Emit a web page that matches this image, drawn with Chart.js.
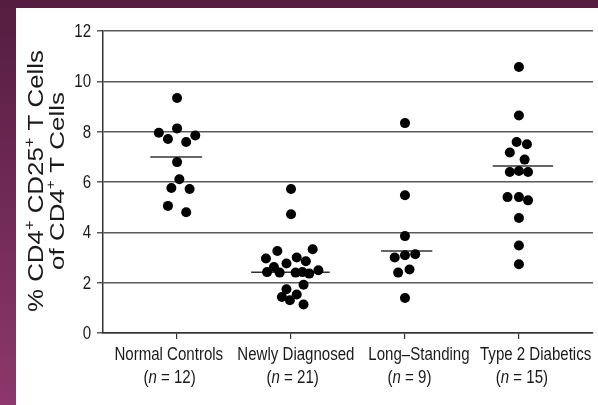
<!DOCTYPE html>
<html>
<head>
<meta charset="utf-8">
<script src="https://cdn.jsdelivr.net/npm/chart.js@4.4.0/dist/chart.umd.min.js"></script>
<style>
  html, body { margin: 0; padding: 0; }
  body { width: 598px; height: 405px; overflow: hidden; position: relative;
         background: linear-gradient(to bottom, #551d40 0%, #8d376c 100%); }
  #frame { position: absolute; left: 16px; top: 8px; width: 582px; height: 397px; background: #fff; }
</style>
</head>
<body>
<div id="frame"><canvas id="myChart" width="582" height="397"></canvas></div>
<script>
const categories = ['Normal Controls', 'Newly Diagnosed', 'Long\u2013Standing', 'Type 2 Diabetics'];
const groupSizes = [12, 21, 9, 15];
const yTicks = [0, 2, 4, 6, 8, 10, 12];

// values, jitter is the sideways offset from the category (in category units)
const normalValues = [9.34, 7.96, 8.13, 7.85, 7.71, 7.59, 6.79, 6.11, 5.76, 5.72, 5.05, 4.80];
const normalJitter = [0.00, -0.16, 0.00, 0.16, -0.08, 0.08, 0.00, 0.02, -0.05, 0.11, -0.08, 0.08];

const newlyValues = [5.72, 4.72, 3.26, 3.33, 2.96, 3.00, 2.76, 2.85, 2.62, 2.42, 2.40, 2.40, 2.42, 2.36, 2.49, 1.92, 1.74, 1.53, 1.43, 1.30, 1.13];
const newlyJitter = [0.00, 0.00, -0.12, 0.19, -0.22, 0.05, -0.04, 0.13, -0.15, -0.21, -0.10, 0.04, 0.10, 0.16, 0.24, 0.11, -0.04, 0.05, -0.08, -0.01, 0.11];

const longValues = [8.34, 5.47, 3.85, 3.00, 3.09, 3.13, 2.40, 2.52, 1.39];
const longJitter = [0.00, 0.00, 0.00, -0.09, 0.00, 0.09, -0.06, 0.04, 0.00];

const type2Values = [10.57, 8.64, 7.59, 7.50, 7.17, 6.89, 6.40, 6.44, 6.40, 5.40, 5.40, 5.27, 4.57, 3.48, 2.73];
const type2Jitter = [0.00, 0.00, -0.02, 0.07, -0.08, 0.05, -0.08, 0.00, 0.08, -0.10, 0.00, 0.08, 0.00, 0.00, 0.00];

const meanValues = [6.99, 2.41, 3.26, 6.64];
const meanLeft = [-0.235, -0.35, -0.21, -0.23];
const meanRight = [0.22, 0.34, 0.24, 0.30];

const groups = [
    [normalValues, normalJitter],
    [newlyValues, newlyJitter],
    [longValues, longJitter],
    [type2Values, type2Jitter]
];

const fam = "'Liberation Sans', Arial, sans-serif";
const narrow = 0.86; // the original labels use a condensed face
// the printed labels are not exactly centred under their ticks (px nudges)
const nameNudge = [-8.3, 4.9, 14, 16.7];
const countNudge = [-7.5, 1.6, 4.5, 3];

const datasets = [];
groups.forEach(([values, jitter], i) => {
    datasets.push({
        label: categories[i],
        data: values.map((v, k) => ({ x: i + 1 + jitter[k], y: v })),
        backgroundColor: '#000',
        borderColor: '#000',
        pointRadius: 5,
        pointBorderWidth: 0,
        order: 1
    });
});
meanValues.forEach((m, i) => {
    datasets.push({
        label: 'mean ' + categories[i],
        data: [{ x: i + 1 + meanLeft[i], y: m }, { x: i + 1 + meanRight[i], y: m }],
        showLine: true,
        borderColor: '#333',
        borderWidth: 1.5,
        pointRadius: 0,
        order: 2
    });
});

// x labels (condensed, italic n) and the y title with superscripts
const extraText = {
    id: 'extraText',
    afterDraw(chart) {
        const ctx = chart.ctx;
        const xs = chart.scales.x;
        const ys = chart.scales.y;
        ctx.save();
        ctx.fillStyle = '#1a1a1a';
        ctx.textBaseline = 'alphabetic';

        const drawPieces = (pieces, cx, y) => {
            let total = 0;
            pieces.forEach(p => { ctx.font = p.font; total += ctx.measureText(p.text).width; });
            let x = cx - total / 2;
            pieces.forEach(p => {
                ctx.font = p.font;
                ctx.fillText(p.text, x, y + (p.dy || 0));
                x += ctx.measureText(p.text).width;
            });
            return total;
        };

        const condensed = (pieces, cx, y) => {
            ctx.save();
            ctx.translate(cx, y);
            ctx.scale(narrow, 1);
            drawPieces(pieces, 0, 0);
            ctx.restore();
        };

        categories.forEach((name, i) => {
            const cx = xs.getPixelForValue(i + 1);
            condensed([{ text: name, font: `17.5px ${fam}` }], cx + nameNudge[i], 352);
            condensed([
                { text: '(', font: `17.5px ${fam}` },
                { text: 'n', font: `italic 17.5px ${fam}` },
                { text: ' = ' + groupSizes[i] + ')', font: `17.5px ${fam}` }
            ], cx + countNudge[i], 375);
        });

        yTicks.forEach(v => {
            const y = ys.getPixelForValue(v);
            ctx.save();
            ctx.translate(ys.right - 12, y + 6);
            ctx.scale(narrow, 1);
            ctx.font = `17.5px ${fam}`;
            ctx.textAlign = 'right';
            ctx.fillText(String(v), 0, 0);
            ctx.restore();
        });

        const titleLines = [
            { size: 22, length: 262, x: 27, parts: [['% CD4', 0], ['+', 1], [' CD25', 0], ['+', 1], [' T Cells', 0]] },
            { size: 20, length: 178, x: 47.5, parts: [['of CD4', 0], ['+', 1], [' T Cells', 0]] }
        ];
        titleLines.forEach(line => {
            const pieces = line.parts.map(([t, sup]) => sup
                ? { text: t, font: `${Math.round(line.size * 0.62)}px ${fam}`, dy: -line.size * 0.42 }
                : { text: t, font: `${line.size}px ${fam}` });
            let natural = 0;
            pieces.forEach(p => { ctx.font = p.font; natural += ctx.measureText(p.text).width; });
            ctx.save();
            ctx.translate(line.x, 173);
            ctx.rotate(-Math.PI / 2);
            ctx.scale(line.length / natural, 1);
            drawPieces(pieces, 0, 0);
            ctx.restore();
        });
        ctx.restore();
    }
};

const ctx = document.getElementById('myChart').getContext('2d');
const myChart = new Chart(ctx, {
    type: 'scatter',
    data: { datasets: datasets },
    options: {
        responsive: false,
        animation: false,
        devicePixelRatio: 1,
        layout: { padding: { top: 23, right: 0, bottom: 0, left: 0 } },
        plugins: {
            legend: { display: false },
            tooltip: { enabled: false }
        },
        scales: {
            x: {
                type: 'linear',
                min: 0.35,
                max: 4.65,
                afterBuildTicks: s => { s.ticks = categories.map((c, i) => ({ value: i + 1 })); },
                ticks: { display: false },
                grid: { drawOnChartArea: false, drawTicks: true, tickLength: 6, color: '#333', lineWidth: 1.2 },
                border: { display: true, color: '#333', width: 1.5 },
                afterFit: s => { s.height = 72; }
            },
            y: {
                min: 0,
                max: 12,
                afterBuildTicks: s => { s.ticks = yTicks.map(v => ({ value: v })); },
                ticks: { display: false },
                grid: { color: '#5a5a5a', lineWidth: 1.5, tickLength: 6 },
                border: { display: true, color: '#333', width: 1.5 },
                afterFit: s => { s.width = 87; }
            }
        }
    },
    plugins: [extraText]
});
</script>
</body>
</html>
